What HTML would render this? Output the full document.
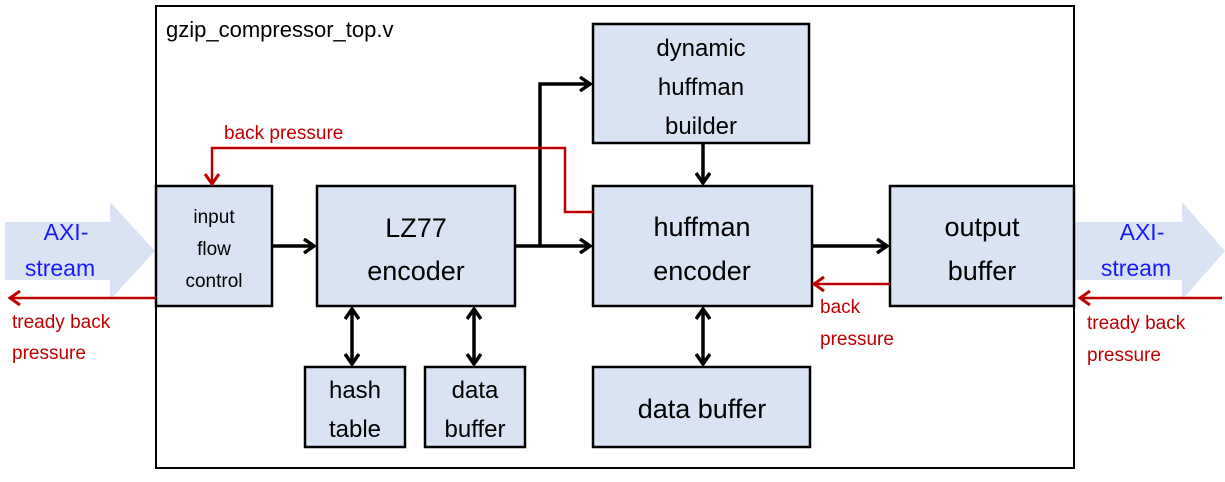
<!DOCTYPE html>
<html><head><style>
body{margin:0;background:#fff;}
svg text{font-family:"Liberation Sans",sans-serif;}
</style></head><body>
<svg width="1225" height="477" viewBox="0 0 1225 477" xmlns="http://www.w3.org/2000/svg">
<defs>
<marker id="a" markerWidth="14" markerHeight="16" refX="12" refY="8" orient="auto" markerUnits="userSpaceOnUse"><path d="M2,1 L12,8 L2,15" fill="none" stroke="#000" stroke-width="3.5"/></marker>
<marker id="as" markerWidth="14" markerHeight="16" refX="12" refY="8" orient="auto-start-reverse" markerUnits="userSpaceOnUse"><path d="M2,1 L12,8 L2,15" fill="none" stroke="#000" stroke-width="3.5"/></marker>
<marker id="r" markerWidth="14" markerHeight="16" refX="12" refY="8" orient="auto" markerUnits="userSpaceOnUse"><path d="M2,1 L12,8 L2,15" fill="none" stroke="#c00000" stroke-width="3"/></marker>
</defs>
<polygon points="5,222 110,222 110,202 155,251 110,300 110,280 5,280" fill="#dae3f3"/>
<polygon points="1075,222 1182,222 1182,202 1225,251 1182,300 1182,280 1075,280" fill="#dae3f3"/>
<rect x="156" y="6" width="918" height="462" fill="none" stroke="#000" stroke-width="2"/>
<text x="166" y="37" font-size="22">gzip_compressor_top.v</text>
<g fill="#dae3f3" stroke="#000" stroke-width="2.5">
<rect x="156" y="186" width="116" height="120"/>
<rect x="317" y="186" width="198" height="120"/>
<rect x="593" y="24" width="216" height="119"/>
<rect x="593" y="186" width="219" height="120"/>
<rect x="890" y="186" width="184" height="120"/>
<rect x="305" y="367" width="100" height="80"/>
<rect x="425" y="367" width="100" height="80"/>
<rect x="593" y="367" width="217" height="80"/>
</g>
<g stroke="#000" stroke-width="3.5" fill="none">
<line x1="272" y1="246" x2="314" y2="246" marker-end="url(#a)"/>
<line x1="515" y1="246" x2="590" y2="246" marker-end="url(#a)"/>
<polyline points="540,246 540,84 590,84" marker-end="url(#a)"/>
<line x1="703" y1="143" x2="703" y2="183" marker-end="url(#a)"/>
<line x1="812" y1="246" x2="887" y2="246" marker-end="url(#a)"/>
<line x1="703" y1="309" x2="703" y2="364" marker-start="url(#as)" marker-end="url(#as)"/>
<line x1="352" y1="309" x2="352" y2="364" marker-start="url(#as)" marker-end="url(#as)"/>
<line x1="474" y1="309" x2="474" y2="364" marker-start="url(#as)" marker-end="url(#as)"/>
</g>
<g stroke="#c00000" stroke-width="2.5" fill="none">
<polyline points="593,212 565,212 565,148 212,148 212,184" marker-end="url(#r)"/>
<line x1="890" y1="284" x2="814" y2="284" marker-end="url(#r)"/>
<line x1="156" y1="298" x2="10" y2="298" marker-end="url(#r)"/>
<line x1="1222" y1="298" x2="1080" y2="298" marker-end="url(#r)"/>
</g>
<g font-size="19" fill="#c00000">
<text x="224" y="139">back pressure</text>
<text x="820" y="313">back</text><text x="820" y="345">pressure</text>
<text x="12" y="328">tready back</text><text x="12" y="359">pressure</text>
<text x="1087" y="329">tready back</text><text x="1087" y="361">pressure</text>
</g>
<g font-size="23" fill="#1a1aff" text-anchor="middle">
<text x="66" y="240">AXI-</text><text x="60" y="276">stream</text>
<text x="1142" y="240">AXI-</text><text x="1136" y="276">stream</text>
</g>
<g text-anchor="middle" fill="#000">
<text font-size="19" x="214" y="223">input</text><text font-size="19" x="214" y="255">flow</text><text font-size="19" x="214" y="287">control</text>
<text font-size="27" x="416" y="237">LZ77</text><text font-size="27" x="416" y="280">encoder</text>
<text font-size="24" x="701" y="56">dynamic</text><text font-size="24" x="701" y="95">huffman</text><text font-size="24" x="701" y="134">builder</text>
<text font-size="27" x="702" y="236">huffman</text><text font-size="27" x="702" y="280">encoder</text>
<text font-size="27" x="982" y="236">output</text><text font-size="27" x="982" y="280">buffer</text>
<text font-size="24" x="355" y="398">hash</text><text font-size="24" x="355" y="437">table</text>
<text font-size="24" x="475" y="398">data</text><text font-size="24" x="475" y="437">buffer</text>
<text font-size="27" x="702" y="418">data buffer</text>
</g>
</svg>
</body></html>
